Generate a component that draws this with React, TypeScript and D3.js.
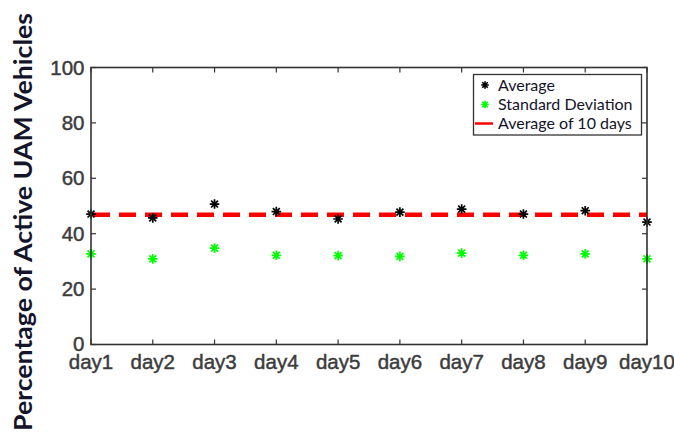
import React from "react";
import * as d3 from "d3";

// Daily share of active UAM vehicles (%)
const days = ["day1", "day2", "day3", "day4", "day5", "day6", "day7", "day8", "day9", "day10"];
const averageValues = [47.1, 45.7, 50.7, 48.0, 45.3, 47.8, 48.9, 47.1, 48.3, 44.2];
const stdDevValues = [32.7, 30.9, 34.8, 32.2, 32.1, 31.8, 33.0, 32.2, 32.7, 30.9];
const averageOfDays = 46.8;
const yTicks = [0, 20, 40, 60, 80, 100];
const legendLabels = ["Average", "Standard Deviation", "Average of 10 days"];

const W = 674;
const H = 436;
const plot = { left: 91, right: 647, top: 67.5, bottom: 344.5 };

const x = d3.scalePoint<string>().domain(days).range([plot.left, plot.right]).padding(0);
const y = d3.scaleLinear().domain([0, 100]).range([plot.bottom, plot.top]);

const axisColor = "#333333";
const tickColor = "#3c3c3c";
const font = "'Liberation Sans', Arial, sans-serif";
const titleFont = "Lato, 'Open Sans', sans-serif";

// Eight-armed asterisk (plus + times), like a MATLAB '*' marker
function asteriskPath(cx: number, cy: number, r: number): string {
  const p = d3.path();
  const d = r * 0.72;
  p.moveTo(cx - r, cy); p.lineTo(cx + r, cy);
  p.moveTo(cx, cy - r); p.lineTo(cx, cy + r);
  p.moveTo(cx - d, cy - d); p.lineTo(cx + d, cy + d);
  p.moveTo(cx - d, cy + d); p.lineTo(cx + d, cy - d);
  return p.toString();
}

export default function App() {
  const tickLen = 5;
  const legend = { x: 473.5, y: 74.5, w: 168, h: 60.5 };
  const rowY = [85, 104.5, 123.5];

  return (
    <svg
      width={W}
      height={H}
      viewBox={`0 0 ${W} ${H}`}
      style={{ position: "absolute", left: 0, top: 0, background: "#ffffff" }}
    >
      {/* y-axis title */}
      <text
        transform={`translate(31.5,222) rotate(-90)`}
        textAnchor="middle"
        fontFamily={titleFont}
        fontWeight="bold"
        fontSize={24}
        textLength={418}
        lengthAdjust="spacingAndGlyphs"
        fill="#14142a"
      >
        Percentage of Active UAM Vehicles
      </text>

      {/* ticks on all four sides, pointing inward */}
      {yTicks.map((t) => (
        <g key={`yt${t}`} stroke={axisColor} strokeWidth={1.2}>
          <line x1={plot.left} x2={plot.left + tickLen} y1={y(t)} y2={y(t)} />
          <line x1={plot.right} x2={plot.right - tickLen} y1={y(t)} y2={y(t)} />
        </g>
      ))}
      {days.map((d) => (
        <g key={`xt${d}`} stroke={axisColor} strokeWidth={1.2}>
          <line x1={x(d)} x2={x(d)} y1={plot.bottom} y2={plot.bottom - tickLen} />
          <line x1={x(d)} x2={x(d)} y1={plot.top} y2={plot.top + tickLen} />
        </g>
      ))}

      {/* y tick labels */}
      {yTicks.map((t) => (
        <text
          key={`yl${t}`}
          x={84.5}
          y={y(t) + (t === 0 ? 6 : 7)}
          textAnchor="end"
          fontFamily={font}
          fontSize={20.5}
          fill={tickColor}
          stroke={tickColor}
          strokeWidth={0.45}
        >
          {t}
        </text>
      ))}

      {/* x tick labels */}
      {days.map((d) => (
        <text
          key={`xl${d}`}
          x={x(d)}
          y={368.5}
          textAnchor="middle"
          fontFamily={font}
          fontSize={20.5}
          fill={tickColor}
          stroke={tickColor}
          strokeWidth={0.45}
        >
          {d}
        </text>
      ))}

      {/* mean over the ten days */}
      <line
        x1={plot.left + 2}
        x2={plot.right}
        y1={y(averageOfDays)}
        y2={y(averageOfDays)}
        stroke="#ff0000"
        strokeWidth={4.5}
        strokeDasharray="17 9"
      />

      {/* daily averages */}
      {averageValues.map((v, i) => (
        <path
          key={`a${i}`}
          d={asteriskPath(x(days[i]) as number, y(v), 4.8)}
          stroke="#000000"
          strokeWidth={1.7}
          fill="none"
        />
      ))}

      {/* daily standard deviations */}
      {stdDevValues.map((v, i) => (
        <path
          key={`s${i}`}
          d={asteriskPath(x(days[i]) as number, y(v), 4.8)}
          stroke="#00ff00"
          strokeWidth={1.7}
          fill="none"
        />
      ))}

      {/* plot frame */}
      <rect
        x={plot.left}
        y={plot.top}
        width={plot.right - plot.left}
        height={plot.bottom - plot.top}
        fill="none"
        stroke={axisColor}
        strokeWidth={1.6}
      />

      {/* legend */}
      <g>
        <rect
          x={legend.x}
          y={legend.y}
          width={legend.w}
          height={legend.h}
          fill="#ffffff"
          stroke={axisColor}
          strokeWidth={1.3}
        />
        <path d={asteriskPath(485, rowY[0], 3.8)} stroke="#000000" strokeWidth={1.6} fill="none" />
        <path d={asteriskPath(485, rowY[1], 3.8)} stroke="#00ff00" strokeWidth={1.6} fill="none" />
        <line x1={475} x2={493} y1={rowY[2]} y2={rowY[2]} stroke="#ff0000" strokeWidth={2.5} />
        {legendLabels.map((l, i) => (
          <text
            key={l}
            x={498}
            y={rowY[i]}
            dy="0.36em"
            fontFamily={titleFont}
            fontSize={16}
            fill="#14142a"
          >
            {l}
          </text>
        ))}
      </g>
    </svg>
  );
}
